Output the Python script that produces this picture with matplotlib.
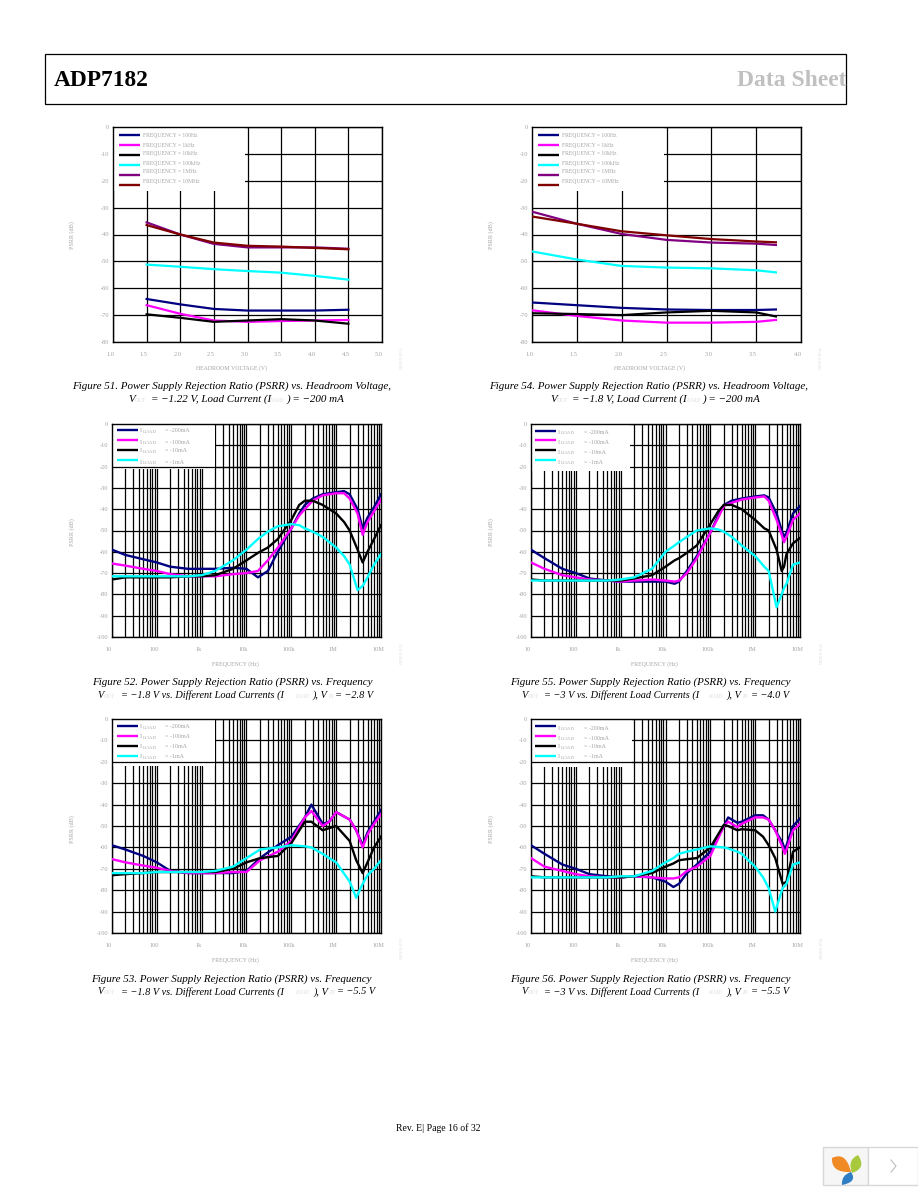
import matplotlib
matplotlib.use('Agg')
import matplotlib.pyplot as plt
from matplotlib.patches import Rectangle, PathPatch
from matplotlib.path import Path
from matplotlib.ticker import LogLocator, NullFormatter
from matplotlib.transforms import ScaledTranslation

plt.rcParams['font.family'] = ['Liberation Serif', 'DejaVu Sans']

NAVY = '#000080'
MAGENTA = '#ff00ff'
BLACK = '#000000'
CYAN = '#00ffff'
PURPLE = '#800080'
DARKRED = '#800000'
GREY = '#a4a4a4'
FAINT = '#dddddd'

freq_labels = ['FREQUENCY = 100Hz', 'FREQUENCY = 1kHz', 'FREQUENCY = 10kHz',
               'FREQUENCY = 100kHz', 'FREQUENCY = 1MHz', 'FREQUENCY = 10MHz']
load_labels = ['= -200mA', '= -100mA', '= -10mA', '= -1mA']
freq_ticks = [10, 100, 1000, 10000, 100000, 1000000, 10000000]
freq_ticklabels = ['10', '100', '1k', '10k', '100k', '1M', '10M']

# --- Figure 51 ---
v51 = [1.5, 2.0, 2.5, 3.0, 3.5, 4.0, 4.5]
f51_100 = [-64, -66, -67.7, -68.3, -68.3, -68.3, -68]
f51_1k = [-66.3, -69.5, -72, -72.5, -72.2, -72, -71.8]
f51_10k = [-69.7, -71, -72.5, -72, -71.5, -72, -73.2]
f51_100k = [-51.2, -52, -52.9, -53.6, -54.2, -55.4, -56.8]
f51_1m = [-35.5, -40, -43.5, -44.8, -44.8, -44.8, -45.3]
f51_10m = [-36.5, -40, -43, -44.2, -44.5, -45, -45.5]

# --- Figure 54 ---
v54 = [1.0, 1.5, 2.0, 2.5, 3.0, 3.5, 3.72]
f54_100 = [-65.3, -66.3, -67.3, -67.9, -68.1, -68.1, -67.9]
f54_1k = [-68.2, -70.3, -72, -72.8, -72.8, -72.5, -71.8]
f54_10k = [-69.3, -69.6, -70, -69, -68.4, -69, -70.5]
f54_100k = [-46.3, -49.3, -51.7, -52.3, -52.6, -53.3, -54.1]
f54_1m = [-31.5, -36, -39.8, -42, -43, -43.4, -43.9]
f54_10m = [-33.3, -36, -38.8, -40.3, -41.7, -42.6, -42.9]

# --- Figure 52 ---
f52 = [10, 20, 50, 100, 200, 500, 1e3, 2e3, 5e3, 1e4, 1.8e4, 3e4, 5e4, 1e5, 1.5e5, 2e5,
       3e5, 5e5, 1e6, 1.5e6, 2e6, 3e6, 3.9e6, 5e6, 7e6, 1e7]
i52_200 = [-59, -61.5, -63.5, -65, -67, -68, -68, -68, -67.5, -68, -72, -69, -60, -49, -42, -38,
           -35, -33, -32, -31.5, -33, -40, -49, -44, -39, -33]
i52_100 = [-65.5, -66.5, -68, -69, -70.5, -71.5, -71.5, -71.5, -70.5, -70, -69, -64, -58, -49, -43, -40,
           -36, -33.5, -32.5, -32.5, -35, -42, -52, -46, -41, -35.5]
i52_10 = [-73, -72, -72, -72, -72, -71.5, -71.5, -71, -68, -64, -60.5, -58, -54, -45, -38, -36,
          -36, -38, -42, -46, -50, -59, -65, -60, -54, -47.5]
i52_1 = [-71.5, -71.5, -71.5, -71.5, -71.5, -71.5, -71, -69, -64, -59, -54, -50.5, -48, -47, -47.5, -49,
         -50.5, -53, -58, -62, -66, -78, -76, -72, -66, -61]

# --- Figure 55 ---
f55 = [10, 20, 50, 100, 200, 500, 1e3, 2e3, 5e3, 1e4, 1.6e4, 2e4, 3e4, 5e4, 1e5, 1.5e5, 2e5,
       3e5, 5e5, 1e6, 1.6e6, 2e6, 3e6, 3.9e6, 4.4e6, 5e6, 7e6, 1e7]
i55_200 = [-59, -63, -68, -70, -72.5, -73.5, -74, -74, -74, -74, -75, -74, -69, -62, -51, -43, -38,
           -36, -35, -34, -33.5, -34.5, -42, -50, -53, -51, -42, -38.5]
i55_100 = [-65, -68, -71, -72, -73, -73.5, -74, -73.5, -73, -73.5, -74, -73.5, -70, -63, -51, -44, -38.5,
           -37, -35.5, -34.5, -34, -36, -45, -52, -55.5, -53, -45, -42]
i55_10 = [-73, -73.5, -73.5, -73.5, -73.5, -73.5, -73.5, -72.5, -71, -67, -64, -63, -60.5, -57, -47, -41, -38,
          -38, -40, -45, -49, -50, -59, -69, -67, -61, -56, -53.5]
i55_1 = [-73.5, -73.5, -73.5, -73.5, -73.5, -73.5, -73, -72, -68, -60, -57, -55.5, -53, -50, -49, -49.5, -50.5,
         -53, -57, -62, -67, -69, -86, -80, -77, -75, -66, -65]

# --- Figure 53 ---
f53 = [10, 20, 50, 100, 200, 500, 1e3, 2e3, 5e3, 1e4, 2e4, 5e4, 1e5, 2e5, 2.8e5, 5e5, 7e5,
       1e6, 2e6, 2.8e6, 3.9e6, 5e6, 7e6, 1e7]
i53_200 = [-59, -61, -64, -67, -71, -72, -72, -72, -72, -71, -65, -59, -55, -46, -40, -49, -48,
           -43.5, -47, -52, -59, -53, -48, -42.5]
i53_100 = [-65.5, -67, -68.5, -69.5, -71, -72, -72, -72, -71.5, -71.5, -66, -62, -57, -46, -43, -50, -48,
           -43.5, -47, -52, -60, -54, -49, -44.5]
i53_10 = [-73, -72.5, -72, -71.5, -71.5, -71.5, -71.5, -71.5, -70, -67, -65, -64, -58, -48, -48, -52, -51,
          -50, -57, -66, -72, -67, -60, -55]
i53_1 = [-72, -72, -72, -71.5, -71.5, -71.5, -71.5, -71, -69, -65, -61, -60, -59, -59.5, -60, -63, -65,
         -67, -76, -83.5, -77, -73, -70, -66]

# --- Figure 56 ---
f56 = [10, 20, 50, 100, 200, 500, 1e3, 2e3, 5e3, 1e4, 1.5e4, 2e4, 3e4, 5e4, 1e5, 2e5, 2.5e5, 4e5, 5e5,
       1e6, 1.5e6, 2e6, 2.8e6, 4.1e6, 4.6e6, 5e6, 7e6, 1e7]
i56_200 = [-59, -63, -68, -70, -72.5, -73.5, -74, -73.5, -74, -76, -78.5, -77, -72, -68, -62, -50, -46, -48.5, -48,
           -45, -45, -47, -52, -58, -61, -59, -50, -46.5]
i56_100 = [-65, -69, -71, -72.5, -73.5, -74, -74, -73.5, -74, -74.5, -74.5, -74, -71, -69, -64, -50, -48, -50.5, -49,
           -46, -46, -47, -52, -60, -63, -61, -52, -49]
i56_10 = [-73.5, -74, -74, -74, -74, -74, -74, -73.5, -72, -69, -67.5, -66, -65.5, -65, -60, -49.5, -50, -52, -51.5,
          -52, -55, -59, -65, -77, -76.5, -76, -62, -60]
i56_1 = [-74, -74, -74, -74, -74, -74, -73.5, -73.5, -71, -67, -65, -63, -62, -61, -59.5, -60, -60.5, -62, -63,
         -69, -74, -79, -90, -79, -78, -77, -68, -67]

fig = plt.figure(figsize=(9.18, 11.88), dpi=100)
fig.patch.set_facecolor('white')


def make_axes(left, right, top, bottom):
    return fig.add_axes([left / 918, 1 - bottom / 1188, (right - left) / 918, (bottom - top) / 1188])


def style_axes(ax, ymin, yticks, ylabels):
    ax.set_ylim(ymin, 0)
    ax.set_yticks(yticks)
    ax.set_yticklabels(ylabels)
    ax.set_axisbelow(True)
    ax.tick_params(which='both', length=0, labelsize=4.6, labelcolor=GREY)
    ax.tick_params(axis='y', pad=3)
    ax.tick_params(axis='x', pad=7.5)
    for spine in ax.spines.values():
        spine.set_linewidth(1.0)
        spine.set_color('black')
    shift = ScaledTranslation(-3 / 100, 0, fig.dpi_scale_trans)
    for lab in ax.get_xticklabels():
        lab.set_transform(lab.get_transform() + shift)


def legend_patch(ax, box, right_px, bottom_px):
    left, right, top, bottom = box
    w = (right_px - left) / (right - left)
    h = (bottom_px - top) / (bottom - top)
    ax.add_patch(Rectangle((0, 1 - h), w, h, transform=ax.transAxes, facecolor='white',
                           edgecolor='none', zorder=1.5))


def page_line(x0, x1, y, col, lw):
    overlay.plot([x0, x1], [y, y], color=col, linewidth=lw, solid_capstyle='butt')


def headroom_chart(box, volts, series, xmax, xticks, line_x, text_x, legend_right):
    ax = make_axes(*box)
    ax.set_xlim(1, xmax)
    ax.set_xticks(xticks)
    ax.set_xticklabels(['%.1f' % t for t in xticks])
    ax.grid(True, color='black', linewidth=0.9)
    cols = [NAVY, MAGENTA, BLACK, CYAN, PURPLE, DARKRED]
    for vals, col in zip(series, cols):
        ax.plot(volts, vals, color=col, linewidth=1.6, zorder=3)
    style_axes(ax, -80, list(range(0, -90, -10)), [str(t) for t in range(0, -90, -10)])
    legend_patch(ax, box, legend_right, 191)
    line_y = [135, 145, 155, 165, 175, 185]
    text_y = [136, 145, 154, 163, 172, 181]
    for ly, ty, col, lab in zip(line_y, text_y, cols, freq_labels):
        page_line(line_x, line_x + 21, ly, col, 1.7)
        overlay.text(text_x, ty, lab, fontsize=4.1, color=GREY, ha='left', va='center')
    return ax


def freq_chart(box, freq, series, line_x, text_x, eq_x, line_y, text_y, legend_right, legend_bottom, keep_20):
    ax = make_axes(*box)
    ax.set_xscale('log')
    ax.set_xlim(10, 1e7)
    ax.set_xticks(freq_ticks)
    ax.set_xticklabels(freq_ticklabels)
    ax.xaxis.set_minor_locator(LogLocator(base=10, subs=[2, 3, 4, 5, 6, 7, 8, 9], numticks=20))
    ax.xaxis.set_minor_formatter(NullFormatter())
    ax.grid(True, which='both', axis='x', color='black', linewidth=0.9)
    ax.grid(True, which='major', axis='y', color='black', linewidth=0.9)
    cols = [NAVY, MAGENTA, BLACK, CYAN]
    for vals, col in zip(series, cols):
        ax.plot(freq, vals, color=col, linewidth=1.7, zorder=3)
    style_axes(ax, -100, list(range(0, -110, -10)), [str(t) for t in range(0, -110, -10)])
    legend_patch(ax, box, legend_right, legend_bottom)
    if keep_20:
        ax.axhline(-20, color='black', linewidth=0.9, zorder=2)
    for ly, ty, col, lab in zip(line_y, text_y, cols, load_labels):
        page_line(line_x, line_x + 21, ly, col, 1.7)
        overlay.text(text_x, ty, 'I', fontsize=4.8, color=GREY, ha='left', va='center')
        overlay.text(text_x + 3, ty + 1, 'LOAD', fontsize=3.6, color=GREY, ha='left', va='center')
        overlay.text(eq_x, ty, lab, fontsize=4.3, color=GREY, ha='left', va='center')
    return ax


def caption(y, pieces, size=7.9):
    # pieces are (x, text, faint)
    for x, txt, faint in pieces:
        if faint:
            overlay.text(x, y + 1, txt, fontsize=4.0, color=FAINT, style='italic', ha='left', va='center')
        else:
            overlay.text(x, y, txt, fontsize=size, color='black', style='italic', ha='left', va='center')


# overlay that sits above the charts, for legends and captions, coordinates are page pixels
overlay = fig.add_axes([0, 0, 1, 1], zorder=10)
overlay.set_xlim(0, 918)
overlay.set_ylim(1188, 0)
overlay.axis('off')

# --- Header ---
overlay.add_patch(Rectangle((45, 54), 801, 50, facecolor='none', edgecolor='black', linewidth=0.9))
overlay.text(54, 81, 'ADP7182', fontsize=16.8, fontweight='bold', color='black', ha='left', va='center')
overlay.text(737, 81, 'Data Sheet', fontsize=17, fontweight='bold', color='#c0c0c0', ha='left', va='center')

# --- Charts ---
box51 = (113, 382, 127, 342)
box54 = (532, 801, 127, 342)
box52 = (112, 381, 424, 637)
box55 = (531, 800, 424, 637)
box53 = (112, 381, 719, 933)
box56 = (531, 800, 719, 933)

headroom_chart(box51, v51, [f51_100, f51_1k, f51_10k, f51_100k, f51_1m, f51_10m], 5.0,
               [1, 1.5, 2, 2.5, 3, 3.5, 4, 4.5, 5], 119, 143, 245)
headroom_chart(box54, v54, [f54_100, f54_1k, f54_10k, f54_100k, f54_1m, f54_10m], 4.0,
               [1, 1.5, 2, 2.5, 3, 3.5, 4], 538, 562, 664)
freq_chart(box52, f52, [i52_200, i52_100, i52_10, i52_1], 117, 140, 165,
           [430, 440, 450, 460], [431, 442, 451, 462], 215, 469, True)
freq_chart(box55, f55, [i55_200, i55_100, i55_10, i55_1], 535, 558, 584,
           [431, 440, 450, 460], [432, 442, 452, 462], 630, 471, False)
freq_chart(box53, f53, [i53_200, i53_100, i53_10, i53_1], 117, 140, 165,
           [726, 736, 746, 756], [727, 737, 747, 757], 215, 766, True)
freq_chart(box56, f56, [i56_200, i56_100, i56_10, i56_1], 535, 558, 584,
           [726, 736, 746, 756], [728, 738, 747, 757], 632, 767, True)

# axis titles and the faint figure ids
for x, y in [(72, 235), (491, 235), (72, 532), (491, 532), (72, 829), (491, 829)]:
    overlay.text(x, y, 'PSRR (dB)', fontsize=4.4, color=GREY, rotation=90, ha='center', va='center')
for x, y in [(231, 368), (649, 368)]:
    overlay.text(x, y, 'HEADROOM VOLTAGE (V)', fontsize=4.2, color=GREY, ha='center', va='center')
for x, y in [(235, 664), (654, 664), (235, 960), (654, 960)]:
    overlay.text(x, y, 'FREQUENCY (Hz)', fontsize=4.2, color=GREY, ha='center', va='center')
for x, y, txt in [(402, 358, '00000-051'), (821, 358, '00000-054'), (402, 653, '00000-052'),
                  (822, 653, '00000-055'), (402, 948, '00000-053'), (822, 948, '00000-056')]:
    overlay.text(x, y, txt, fontsize=3.6, color=FAINT, rotation=90, ha='center', va='center')

# --- Captions ---
caption(386, [(72, 'Figure 51. Power Supply Rejection Ratio (PSRR) vs. Headroom Voltage,', False)])
caption(399, [(128, 'V', False), (135, 'OUT', True), (151, '= \u22121.22 V, Load Current (I', False),
              (269, 'LOAD', True), (287, ') = \u2212200 mA', False)])
caption(386, [(489, 'Figure 54. Power Supply Rejection Ratio (PSRR) vs. Headroom Voltage,', False)])
caption(399, [(550, 'V', False), (557, 'OUT', True), (572, '= \u22121.8 V, Load Current (I', False),
              (686, 'LOAD', True), (703, ') = \u2212200 mA', False)])
caption(682, [(92, 'Figure 52. Power Supply Rejection Ratio (PSRR) vs. Frequency', False)])
caption(695, [(97, 'V', False), (104, 'OUT', True), (121, '= \u22121.8 V vs. Different Load Currents (I', False),
              (295, 'LOAD', True), (312, '), V', False)], size=7.4)
caption(695, [(328, 'IN', True), (335, '= \u22122.8 V', False)], size=7.4)
caption(682, [(510, 'Figure 55. Power Supply Rejection Ratio (PSRR) vs. Frequency', False)])
caption(695, [(521, 'V', False), (528, 'OUT', True), (544, '= \u22123 V vs. Different Load Currents (I', False),
              (708, 'LOAD', True), (726, '), V', False)], size=7.4)
caption(695, [(742, 'IN', True), (751, '= \u22124.0 V', False)], size=7.4)
caption(979, [(91, 'Figure 53. Power Supply Rejection Ratio (PSRR) vs. Frequency', False)])
caption(992, [(97, 'V', False), (104, 'OUT', True), (121, '= \u22121.8 V vs. Different Load Currents (I', False),
              (295, 'LOAD', True), (313, '), V', False)], size=7.4)
caption(992, [(329, 'IN', True), (337, '= \u22125.5 V', False)], size=7.4)
caption(979, [(510, 'Figure 56. Power Supply Rejection Ratio (PSRR) vs. Frequency', False)])
caption(992, [(521, 'V', False), (528, 'OUT', True), (544, '= \u22123 V vs. Different Load Currents (I', False),
              (708, 'LOAD', True), (726, '), V', False)], size=7.4)
caption(992, [(742, 'IN', True), (751, '= \u22125.5 V', False)], size=7.4)

overlay.text(438, 1128, 'Rev. E| Page 16 of 32', fontsize=7, color='black', ha='center', va='center')

# --- Viewer widget in the corner ---
overlay.add_patch(Rectangle((822.5, 1146.5), 45.5, 38.5, facecolor='#f6f6f6', edgecolor='#d8d8d8', linewidth=1))
overlay.add_patch(Rectangle((868, 1146.5), 50, 38.5, facecolor='white', edgecolor='#d8d8d8', linewidth=1))


def leaf(p0, c0, p1, c1, col):
    verts = [p0, c0, p1, c1, p0]
    codes = [Path.MOVETO, Path.CURVE3, Path.CURVE3, Path.CURVE3, Path.CURVE3]
    overlay.add_patch(PathPatch(Path(verts, codes), facecolor=col, edgecolor='none'))


leaf((832, 1158), (846, 1151), (851, 1172), (831, 1173), '#f08a24')
leaf((858, 1155), (867, 1168), (852, 1173), (847, 1160), '#a9c93c')
leaf((851, 1172), (858, 1182), (842, 1185), (841, 1175), '#2f7fc6')
overlay.plot([891, 896, 891], [1160, 1166, 1172], color='#bdbdbd', linewidth=0.8)

fig.savefig('out.png', dpi=100)
